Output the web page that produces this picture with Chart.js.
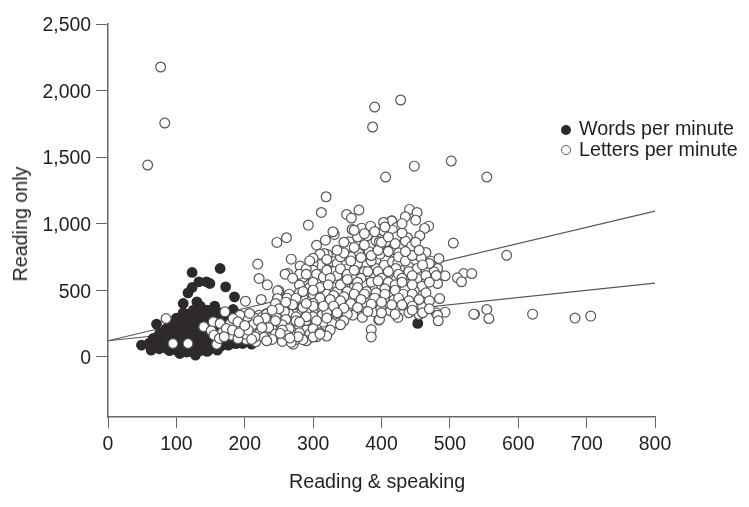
<!DOCTYPE html>
<html>
<head>
<meta charset="utf-8">
<script src="https://cdn.jsdelivr.net/npm/chart.js@4"></script>
<style>
body { margin: 0; background: #fff; }
#wrap { position: relative; width: 749px; height: 507px; }
.label { position: absolute; font: 19.7px "Liberation Sans", Arial, sans-serif; color: #231f20; line-height: 22px; white-space: nowrap; }
.dot { position: absolute; left: 561px; width: 10px; height: 10px; border-radius: 50%; box-sizing: border-box; }
</style>
</head>
<body>
<div id="wrap">
    <canvas id="scatter_chart" width="749" height="507"></canvas>
    <div class="dot" style="top:125px;background:#2e2a2b"></div>
    <div class="label" style="left:579px;top:117px">Words per minute</div>
    <div class="dot" style="top:145px;border:1.2px solid #5a5a5a"></div>
    <div class="label" style="left:579px;top:138px">Letters per minute</div>
    <div class="label" style="left:289px;top:470px">Reading &amp; speaking</div>
    <div class="label" style="left:20px;top:224px;transform:translate(-50%,-50%) rotate(-90deg)">Reading only</div>
</div>
<script>
const xTicks = [0, 100, 200, 300, 400, 500, 600, 700, 800];
const yTicks = [0, 500, 1000, 1500, 2000, 2500];

const lettersX = [77,83,58,390,387,428,448,406,502,554,505,583,621,683,706,536,
    319,312,293,349,367,356,247,261,331,318,305,329,357,371,384,404,415,403,419,379,392,353,351,268,281,263,259,302,307,321,329,316,367,382,392,415,402,355,343,377,392,419,404,
    290,285,307,318,336,355,367,382,399,417,250,280,298,316,330,341,355,367,387,403,417,248,260,279,265,309,350,372,389,414,372,396,336,336,243,258,280,290,302,313,241,260,282,294,316,271,385,385,358,243,294,251,
    310,325,345,360,375,390,410,300,295,312,330,345,360,375,390,405,320,335,350,365,380,395,300,285,270,320,340,360,375,300,325,345,270,290,255,265,240,305,280,265,310,335,365,385,405,350,300,330,420,275,300,320,350,
    441,452,435,450,415,403,469,463,456,422,416,403,422,438,435,444,397,416,409,425,398,465,458,472,484,404,416,424,440,421,452,465,482,477,493,520,532,511,517,482,452,437,459,431,434,448,446,416,418,485,400,399,404,436,460,455,413,424,399,480,493,482,483,535,554,557,397,
    219,221,233,248,248,224,201,171,85,140,95,117,159,216,154,164,179,193,205,221,234,241,245,195,210,227,151,167,180,195,212,236,244,155,202,227,217,232,246,207,183,173,190,202,219,251,163,
    226,240,255,262,272,250,235,268,280,290,295,305,315,328,345,258,272,285,245,262,232,222,212,200,190,182,170,
    300,305,315,320,335,340,350,360,370,380,395,400,410,425,430,440,445,300,325,340,350,365,385,395,410,420,430,445,310,322,350,365,378,392,405,420,432,445,455,330,345,360,375,390,405,425,440,310,325,340,355,370,385,400,415,430,445,300,315,330,345,365,380,400,420,440,300,290,275,285,300,270,260,250,240,230,220,260,275,290,305,320,335,280,255,245,235,225,265,280,300,310,255,245,275,290,305,325,340,320,228,215,205,192,200,
    340,355,370,385,395,410,425,435,445,360,375,400,420,435,365,390,410,430,345,335,310,300,345,360,375,405,430,450,455,470,480,460,465,470,465,470,460,445,470,290,295,320,280,270,290,
    240,255,268,285,300,232,210,262,278,252,266,310];
const lettersY = [2177,1756,1440,1876,1726,1929,1432,1350,1470,1350,854,762,320,290,305,320,
    1202,1084,989,1069,1102,1042,859,894,919,876,838,939,956,966,981,1006,1021,946,971,909,871,864,826,733,681,625,620,656,726,768,713,776,776,788,726,808,801,751,688,688,663,663,676,
    550,595,555,570,575,550,613,613,538,495,495,538,425,455,413,455,463,500,488,450,425,437,437,405,387,375,362,375,337,345,295,275,300,250,355,305,320,270,280,312,255,167,137,200,200,94,204,149,312,200,137,225,
    640,620,640,600,640,600,620,600,520,500,520,510,520,540,510,560,470,490,430,440,450,420,470,440,420,410,390,400,410,350,350,330,350,340,380,320,310,410,480,470,690,700,700,720,740,660,700,640,720,300,300,330,320,
    1107,1084,1052,1026,1019,1009,981,964,909,971,951,946,901,894,869,831,864,808,793,781,771,783,743,718,738,688,713,706,676,663,663,651,663,638,608,625,625,593,563,550,588,613,530,538,505,495,450,483,425,437,538,450,437,392,375,317,345,295,362,330,335,312,270,320,355,287,280,
    696,588,540,495,437,430,417,337,287,225,99,99,94,112,262,250,250,312,280,312,287,255,345,220,237,250,195,180,162,150,175,180,187,162,129,175,287,325,300,325,287,212,262,212,212,237,137,
    300,210,180,150,200,150,260,260,230,200,170,230,260,250,270,340,390,370,400,440,320,180,240,170,135,200,150,
    650,620,600,650,610,660,620,650,590,640,640,590,640,620,590,640,610,560,590,540,580,560,560,570,560,540,560,540,520,540,490,520,490,480,510,500,470,470,430,460,450,470,470,440,470,440,420,440,430,420,400,430,395,410,390,390,380,400,380,380,365,370,340,330,320,330,380,400,440,490,500,390,410,360,350,290,270,280,270,300,270,290,330,260,240,270,220,220,210,180,210,180,200,170,130,120,150,200,240,155,145,150,200,180,235,
    750,720,745,760,800,790,750,720,760,820,840,860,850,790,900,940,900,930,780,800,770,740,860,950,925,975,1000,860,800,700,610,690,610,560,480,420,330,350,360,660,720,730,620,590,620,
    130,115,108,128,148,120,130,160,150,175,140,170];

const wordsX = [453,164,123,133,144,149,123,117,172,185,110,130,156,183,71,49,63,105,128,66,80,176,197,188,149,
    75,85,95,105,115,125,135,145,155,165,90,100,110,120,130,140,80,95,110,125,140,150,165,100,115,130,145,160,175,70,60,85,120,135,150,105,90,112,120,130,140,155,100,125,135,118,110,128,145,165,175,
    65,75,75,85,85,95,95,95,105,105,105,115,115,115,115,125,125,125,125,135,135,135,135,135,145,145,145,145,145,155,155,155,155,155,165,165,165,175,175,175,185,185,185,195,65,75,90,100,115,130,145,160,175,195,210];
const wordsY = [250,663,633,563,563,550,520,480,525,450,400,412,380,355,245,87,50,24,12,137,175,87,99,99,125,
    110,130,150,170,190,210,230,250,300,330,200,230,260,290,320,340,95,75,60,75,70,60,80,120,130,150,170,120,110,80,100,65,40,45,100,95,100,225,160,110,130,200,290,350,380,320,330,270,300,230,180,
    90,140,170,160,210,110,180,240,130,200,270,100,160,250,300,130,180,240,300,100,160,200,290,340,110,200,220,280,350,90,150,240,280,350,110,160,270,140,230,300,110,100,300,130,60,60,45,50,35,60,40,50,90,105,95];

const upperLineX = [0, 800];
const upperLineY = [120, 1094];
const lowerLineX = [0, 800];
const lowerLineY = [120, 553];

const toPoints = (xs, ys) => xs.map((x, i) => ({ x: x, y: ys[i] }));
const tickFont = { family: '"Liberation Sans", Arial, sans-serif', size: 19.4 };
const inkColor = '#231f20';
const axisColor = '#666';

new Chart(document.getElementById('scatter_chart'), {
    type: 'scatter',
    data: {
        datasets: [
            { label: 'Letters per minute', data: toPoints(lettersX, lettersY), order: 1,
              pointRadius: 4.9, pointBorderWidth: 1.2, pointBorderColor: '#555', pointBackgroundColor: '#fff' },
            { label: 'Words per minute', data: toPoints(wordsX, wordsY), order: 2,
              pointRadius: 5.4, pointBorderWidth: 0, pointBackgroundColor: '#2e2a2b' },
            { data: toPoints(upperLineX, upperLineY), order: 3, showLine: true, pointRadius: 0, borderColor: '#555', borderWidth: 1.2 },
            { data: toPoints(lowerLineX, lowerLineY), order: 3, showLine: true, pointRadius: 0, borderColor: '#555', borderWidth: 1.2 }
        ]
    },
    options: {
        responsive: false,
        animation: false,
        layout: { padding: { top: 24, right: 94 } },
        plugins: { legend: { display: false }, tooltip: { enabled: false } },
        scales: {
            x: {
                type: 'linear',
                min: 0,
                max: 800,
                afterBuildTicks: (axis) => { axis.ticks = xTicks.map(v => ({ value: v })); },
                afterFit: (axis) => { axis.height = 90; },
                border: { color: axisColor, width: 1.5 },
                grid: { drawOnChartArea: false, color: axisColor, tickLength: 11 },
                ticks: { font: tickFont, color: inkColor, padding: 5, maxRotation: 0 }
            },
            y: {
                type: 'linear',
                min: -453,
                max: 2500,
                afterBuildTicks: (axis) => { axis.ticks = yTicks.map(v => ({ value: v })); },
                afterFit: (axis) => { axis.width = 108; },
                border: { color: axisColor, width: 1.5 },
                grid: { drawOnChartArea: false, color: axisColor, tickLength: 12 },
                ticks: { font: tickFont, color: inkColor, padding: 5, labelOffset: 2, callback: (v) => v.toLocaleString('en-US') }
            }
        }
    }
});
</script>
</body>
</html>
